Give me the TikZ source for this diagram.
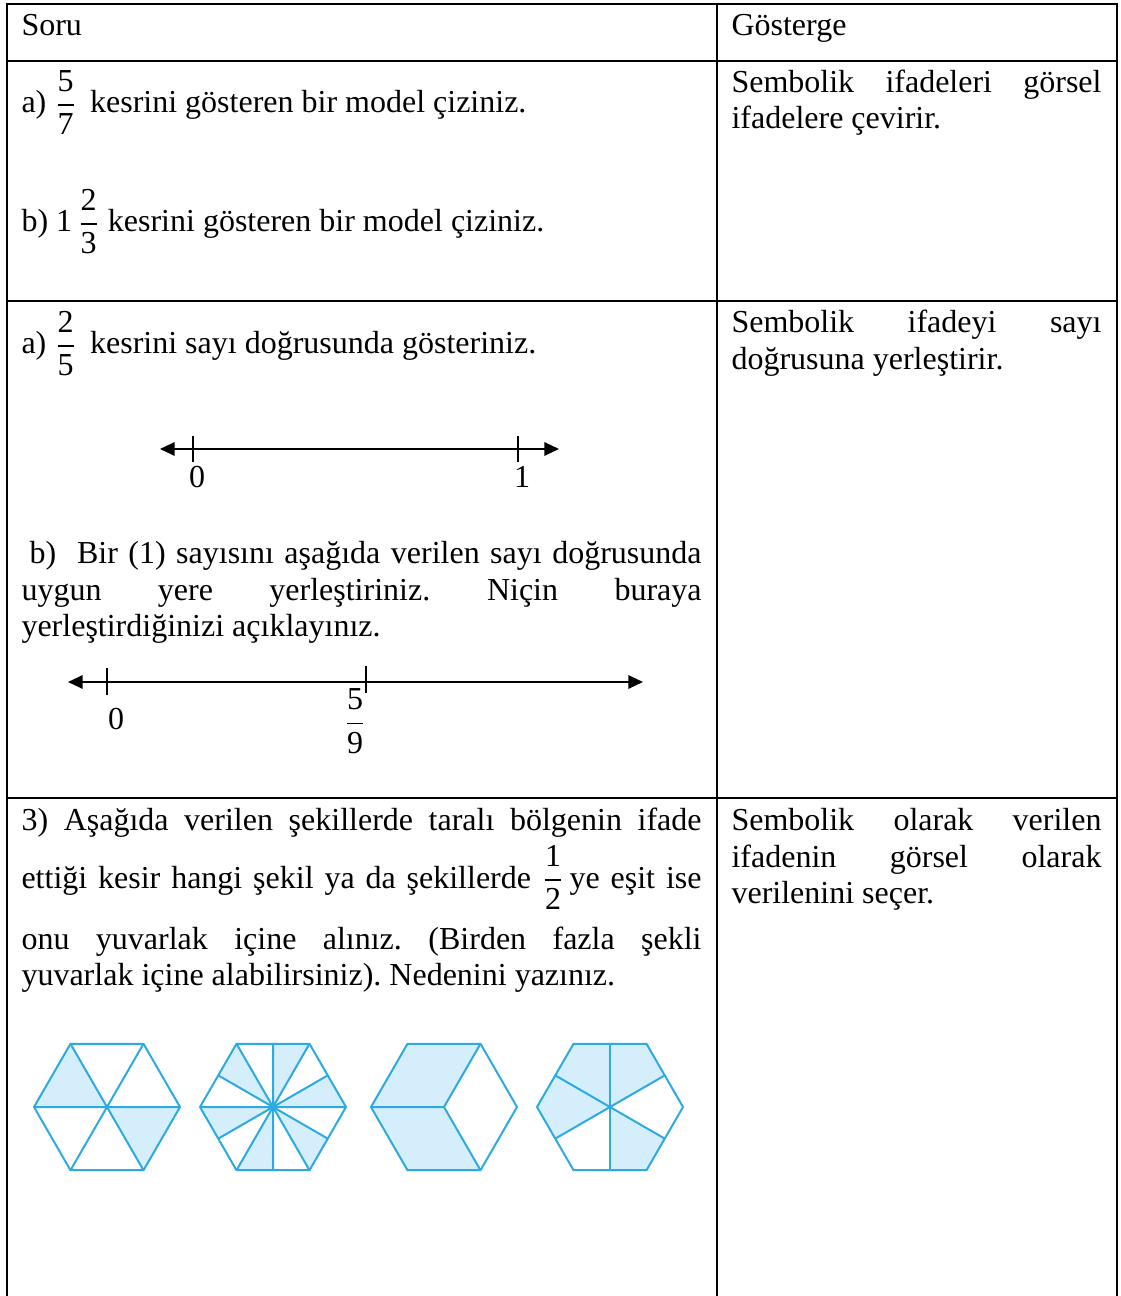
\documentclass[tikz,border=0pt]{standalone}
\usepackage{amsmath}
\usepackage{fontspec}
\setmainfont{Liberation Serif}
\usepackage{tikz}
\usetikzlibrary{arrows.meta}
\definecolor{HexLine}{RGB}{45,170,225}
\definecolor{HexFill}{RGB}{212,238,251}

\newcommand{\kesir}[2]{$\dfrac{\text{#1}}{\text{#2}}$}
\newcommand{\satir}[2]{\makebox[#1][s]{#2}}
\frenchspacing

\begin{document}
\begin{tikzpicture}[x=0.375pt, y=-0.375pt,
    metin/.style={anchor=base west, inner sep=0pt, font=\fontsize{12}{13.8}\selectfont},
    rakam/.style={inner sep=0pt, font=\fontsize{12}{13.8}\selectfont},
    dis/.style={line width=0.9pt},
    ara/.style={line width=0.5pt},
    sayidogrusu/.style={line width=0.8pt, {Triangle[length=5.5pt,width=5pt]}-{Triangle[length=5.5pt,width=5pt]}},
    centik/.style={line width=0.5pt},
    altigen/.style={draw=HexLine, line width=0.75pt, line join=round},
    tarali/.style={fill=HexFill}]
    \useasboundingbox (0,0) rectangle (1121,1296);

    % Table frame
    \draw[dis] (7,1296) -- (7,4) -- (1117,4) -- (1117,1296);
    \draw[dis] (7,61) -- (1117,61);
    \draw[dis] (7,301) -- (1117,301);
    \draw[dis] (7,798) -- (1117,798);
    \draw[ara] (717,4) -- (717,1296);

    % Header
    \node[metin] (soru) at (21,36) {Soru};
    \node[metin] (gosterge) at (731,36) {Gösterge};

    % Row 1
    \node[metin] (s1a) at (21,113) {a) \kesir{5}{7}\, kesrini gösteren bir model çiziniz.};
    \node[metin] (s1b) at (21,232) {b) 1\,\kesir{2}{3} kesrini gösteren bir model çiziniz.};
    \node[metin] (g1a) at (731,93) {\satir{138.75pt}{Sembolik ifadeleri görsel}};
    \node[metin] (g1b) at (731,129) {ifadelere çevirir.};

    % Row 2
    \node[metin] (s2a) at (21,354) {a) \kesir{2}{5}\, kesrini sayı doğrusunda gösteriniz.};
    \coordinate (d1sol) at (160,449);
    \coordinate (d1sag) at (559,449);
    \draw[sayidogrusu] (d1sol) -- (d1sag);
    \draw[centik] (193,436) -- (193,462);
    \draw[centik] (518,436) -- (518,462);
    \node[rakam] (d1sifir) at (197,477) {0};
    \node[rakam] (d1bir) at (522,477) {1};

    \node[metin] (s2b1) at (29,563) {\satir{252pt}{b)\ \ Bir (1) sayısını aşağıda verilen sayı doğrusunda}};
    \node[metin] (s2b2) at (21,600) {\satir{255pt}{uygun yere yerleştiriniz. Niçin buraya}};
    \node[metin] (s2b3) at (21,636) {yerleştirdiğinizi açıklayınız.};
    \coordinate (d2sol) at (68,682);
    \coordinate (d2sag) at (643,682);
    \draw[sayidogrusu] (d2sol) -- (d2sag);
    \draw[centik] (107,668) -- (107,695);
    \draw[centik] (366,666) -- (366,693);
    \node[rakam] (d2sifir) at (116,719) {0};
    \node[rakam] (d2kesir) at (355,721) {\kesir{5}{9}};

    \node[metin] (g2a) at (731,333) {\satir{138.75pt}{Sembolik ifadeyi sayı}};
    \node[metin] (g2b) at (731,370) {doğrusuna yerleştirir.};

    % Row 3
    \node[metin] (s3a) at (21,830) {\satir{255pt}{3) Aşağıda verilen şekillerde taralı bölgenin ifade}};
    \node[metin] (s3b) at (21,888) {\satir{255pt}{ettiği kesir hangi şekil ya da şekillerde \kesir{1}{2}\,ye eşit ise}};
    \node[metin] (s3c) at (21,949) {\satir{255pt}{onu yuvarlak içine alınız. (Birden fazla şekli}};
    \node[metin] (s3d) at (21,985) {yuvarlak içine alabilirsiniz). Nedenini yazınız.};
    \node[metin] (g3a) at (731,830) {\satir{138.75pt}{Sembolik olarak verilen}};
    \node[metin] (g3b) at (731,867) {\satir{138.75pt}{ifadenin görsel olarak}};
    \node[metin] (g3c) at (731,903) {verilenini seçer.};

    % Hexagon 1
    \begin{scope}[shift={(107,1107)}, yscale=-1]
        \fill[tarali] (0,0) -- (120:73) -- (180:73) -- cycle;
        \fill[tarali] (0,0) -- (0:73) -- (300:73) -- cycle;
        \draw[altigen] (0:73) -- (180:73) (60:73) -- (240:73) (120:73) -- (300:73);
        \draw[altigen] (0:73) \foreach \a in {60,120,...,300} { -- (\a:73) } -- cycle;
    \end{scope}

    % Hexagon 2
    \begin{scope}[shift={(273,1107)}, yscale=-1]
        \foreach \a in {0,60,...,300}
            \fill[tarali] (0,0) -- (\a:73) -- (\a+30:63.2) -- cycle;
        \foreach \a in {0,60,...,300}
            \draw[altigen] (0,0) -- (\a:73) (0,0) -- (\a+30:63.2);
        \draw[altigen] (0:73) \foreach \a in {60,120,...,300} { -- (\a:73) } -- cycle;
    \end{scope}

    % Hexagon 3
    \begin{scope}[shift={(444,1107)}, yscale=-1]
        \fill[tarali] (0,0) -- (60:73) -- (120:73) -- (180:73) -- (240:73) -- (300:73) -- cycle;
        \draw[altigen] (0,0) -- (60:73) (0,0) -- (180:73) (0,0) -- (300:73);
        \draw[altigen] (0:73) \foreach \a in {60,120,...,300} { -- (\a:73) } -- cycle;
    \end{scope}

    % Hexagon 4
    \begin{scope}[shift={(610,1107)}, yscale=-1]
        \fill[tarali] (0,0) -- (30:63.2) -- (60:73) -- (120:73) -- (180:73) -- (210:63.2) -- cycle;
        \fill[tarali] (0,0) -- (270:63.2) -- (300:73) -- (330:63.2) -- cycle;
        \foreach \a in {30,90,...,330}
            \draw[altigen] (0,0) -- (\a:63.2);
        \draw[altigen] (0:73) \foreach \a in {60,120,...,300} { -- (\a:73) } -- cycle;
    \end{scope}
\end{tikzpicture}
\end{document}
